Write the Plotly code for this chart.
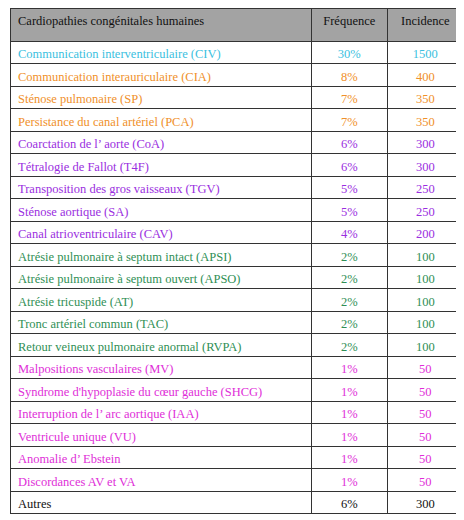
import plotly.graph_objects as go

header = ["Cardiopathies congénitales humaines", "Fréquence", "Incidence"]
names = ["Communication interventriculaire (CIV)", "Communication interauriculaire (CIA)",
         "Sténose pulmonaire (SP)", "Persistance du canal artériel (PCA)",
         "Coarctation de l’ aorte (CoA)", "Tétralogie de Fallot (T4F)",
         "Transposition des gros vaisseaux (TGV)", "Sténose aortique (SA)",
         "Canal atrioventriculaire (CAV)", "Atrésie pulmonaire à septum intact (APSI)",
         "Atrésie pulmonaire à septum ouvert (APSO)", "Atrésie tricuspide (AT)",
         "Tronc artériel commun (TAC)", "Retour veineux pulmonaire anormal (RVPA)",
         "Malpositions vasculaires (MV)", "Syndrome d'hypoplasie du cœur gauche (SHCG)",
         "Interruption de l’ arc aortique (IAA)", "Ventricule unique (VU)",
         "Anomalie d’ Ebstein", "Discordances AV et VA", "Autres"]
freq = ["30%", "8%", "7%", "7%", "6%", "6%", "5%", "5%", "4%", "2%", "2%", "2%", "2%", "2%",
        "1%", "1%", "1%", "1%", "1%", "1%", "6%"]
incid = ["1500", "400", "350", "350", "300", "300", "250", "250", "200", "100", "100", "100",
         "100", "100", "50", "50", "50", "50", "50", "50", "300"]
groups = ["c", "o", "o", "o", "p", "p", "p", "p", "p", "g", "g", "g", "g", "g",
          "m", "m", "m", "m", "m", "m", "k"]
palette = {"c": "#3bbfe0", "o": "#f0902a", "p": "#9a2ee0", "g": "#2f8f55",
           "m": "#e02ed8", "k": "#111111"}
colors = [palette[g] for g in groups]

fig = go.Figure(go.Table(
    columnwidth=[307, 78, 77],
    header=dict(values=header, fill_color="#a3a3a3", line=dict(color="#333333", width=1),
                align=["left", "center", "center"], height=33,
                font=dict(family="Times New Roman, Liberation Serif, serif", size=12.5, color="#111111")),
    cells=dict(values=[names, freq, incid], fill_color="white",
               line=dict(color="#333333", width=1),
               align=["left", "center", "center"], height=22.5,
               font=dict(family="Times New Roman, Liberation Serif, serif", size=12.5,
                         color=[colors, colors, colors])),
    domain=dict(x=[0, 0.985], y=[0, 1]),
))
fig.update_layout(width=464, height=520, margin=dict(l=2, r=2, t=0, b=0),
                  paper_bgcolor="white")
fig.write_html("out.html")
